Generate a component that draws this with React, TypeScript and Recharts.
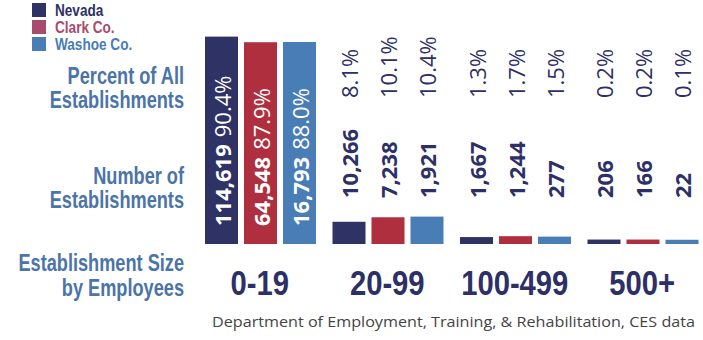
import React from 'react';
import { BarChart, Bar, XAxis, YAxis, Legend } from 'recharts';

const categories = ['0-19', '20-99', '100-499', '500+'];
const nevadaPct = [90.4, 8.1, 1.3, 0.2];
const clarkPct = [87.9, 10.1, 1.7, 0.2];
const washoePct = [88.0, 10.4, 1.5, 0.1];
const nevadaCount = [114619, 10266, 1667, 206];
const clarkCount = [64548, 7238, 1244, 166];
const washoeCount = [16793, 1921, 277, 22];
const seriesNames = ['Nevada', 'Clark Co.', 'Washoe Co.'];
const leftTitles = [
  ['Percent of All', 'Establishments'],
  ['Number of', 'Establishments'],
  ['Establishment Size', 'by Employees'],
];
const sourceText = 'Department of Employment, Training, & Rehabilitation, CES data';

const NAVY = '#2e3264';
const RED = '#b02f3f';
const BLUE = '#497db5';
const TEXT_NAVY = '#2c3066';
const STEEL = '#4b74a8';
const LEGEND_COLORS = [NAVY, '#a94b6c', BLUE];
const NARROW = "'Liberation Sans', Arial, sans-serif";
const SANS = "'Open Sans', 'Noto Sans', sans-serif";

const data = categories.map((cat, i) => ({
  cat,
  nevada: nevadaPct[i],
  clark: clarkPct[i],
  washoe: washoePct[i],
  nevadaN: nevadaCount[i],
  clarkN: clarkCount[i],
  washoeN: washoeCount[i],
}));

const NarrowText = (p: any) => (
  <text
    transform={`translate(${p.x},${p.y}) scale(${p.sx},1)`}
    textAnchor={p.anchor || 'start'}
    fill={p.color}
    fontFamily={NARROW}
    fontWeight={700}
    fontSize={p.size}
  >
    {p.children}
  </text>
);

const makeShape = (key: string, countKey: string, color: string) => (props: any) => {
  const { x, y, width, height, payload } = props;
  const cx = x + width / 2;
  const pct = Number(payload[key]).toFixed(1) + '%';
  const cnt = Number(payload[countKey]).toLocaleString('en-US');
  const inside = payload.cat === categories[0];
  const base = y + height;
  return (
    <g>
      <rect x={x} y={y} width={width} height={height + 4} fill={color} />
      {inside ? (
        <text
          transform={`translate(${cx},${base - 14}) rotate(-90)`}
          fill="#ffffff"
          fontFamily={SANS}
          fontSize={22}
          dominantBaseline="central"
          textAnchor="start"
        >
          <tspan fontWeight={700}>{cnt}</tspan>
          <tspan dx={7} fontWeight={400}>{pct}</tspan>
        </text>
      ) : (
        <g>
          <text
            transform={`translate(${cx},98) rotate(-90)`}
            fill={TEXT_NAVY}
            fontFamily={SANS}
            fontSize={22}
            dominantBaseline="central"
            textAnchor="start"
          >
            {pct}
          </text>
          <text
            transform={`translate(${cx},198) rotate(-90)`}
            fill={TEXT_NAVY}
            fontFamily={SANS}
            fontSize={22}
            fontWeight={700}
            dominantBaseline="central"
            textAnchor="start"
          >
            {cnt}
          </text>
        </g>
      )}
    </g>
  );
};

const CatTick = (props: any) => {
  const { x, y, payload } = props;
  return (
    <NarrowText x={x} y={y + 55} anchor="middle" sx={0.835} size={35} color={TEXT_NAVY}>
      {payload.value}
    </NarrowText>
  );
};

const renderLegend = () => (
  <svg width={200} height={56}>
    {seriesNames.map((name, i) => (
      <g key={name}>
        <rect x={32} y={3 + i * 17} width={14} height={14} fill={LEGEND_COLORS[i]} />
        <NarrowText x={55} y={15.5 + i * 17} sx={0.8} size={17} color={LEGEND_COLORS[i]}>
          {name}
        </NarrowText>
      </g>
    ))}
  </svg>
);

export default function App() {
  const titleBaselines = [
    [84, 108],
    [184, 208],
    [271, 296],
  ];
  return (
    <div style={{ position: 'absolute', left: 0, top: 0, width: 703, height: 340, background: '#fff' }}>
      <BarChart
        width={703}
        height={340}
        data={data}
        margin={{ top: 15, right: -3, bottom: 0, left: 196 }}
        barCategoryGap={9}
        barGap={6}
      >
        <XAxis
          dataKey="cat"
          axisLine={false}
          tickLine={false}
          tickSize={0}
          tickMargin={0}
          height={100}
          interval={0}
          tick={<CatTick />}
        />
        <YAxis hide domain={[0, 100]} />
        <Legend
          layout="vertical"
          align="center"
          verticalAlign="middle"
          content={renderLegend}
          wrapperStyle={{ position: 'absolute', left: 0, top: 0, width: 200, height: 56 }}
        />
        <Bar dataKey="nevada" name="Nevada" fill={NAVY} isAnimationActive={false} shape={makeShape('nevada', 'nevadaN', NAVY)} />
        <Bar dataKey="clark" name="Clark Co." fill={RED} isAnimationActive={false} shape={makeShape('clark', 'clarkN', RED)} />
        <Bar dataKey="washoe" name="Washoe Co." fill={BLUE} isAnimationActive={false} shape={makeShape('washoe', 'washoeN', BLUE)} />
      </BarChart>
      <svg
        width={703}
        height={340}
        style={{ position: 'absolute', left: 0, top: 0, pointerEvents: 'none' }}
      >
        {leftTitles.map((lines, i) =>
          lines.map((line, j) => (
            <NarrowText
              key={`${i}-${j}`}
              x={184}
              y={titleBaselines[i][j]}
              anchor="end"
              sx={0.79}
              size={23}
              color={STEEL}
            >
              {line}
            </NarrowText>
          ))
        )}
        <text
          x={212}
          y={327}
          fill="#444444"
          fontFamily={SANS}
          fontSize={15}
          textLength={483}
          lengthAdjust="spacingAndGlyphs"
        >
          {sourceText}
        </text>
      </svg>
    </div>
  );
}
